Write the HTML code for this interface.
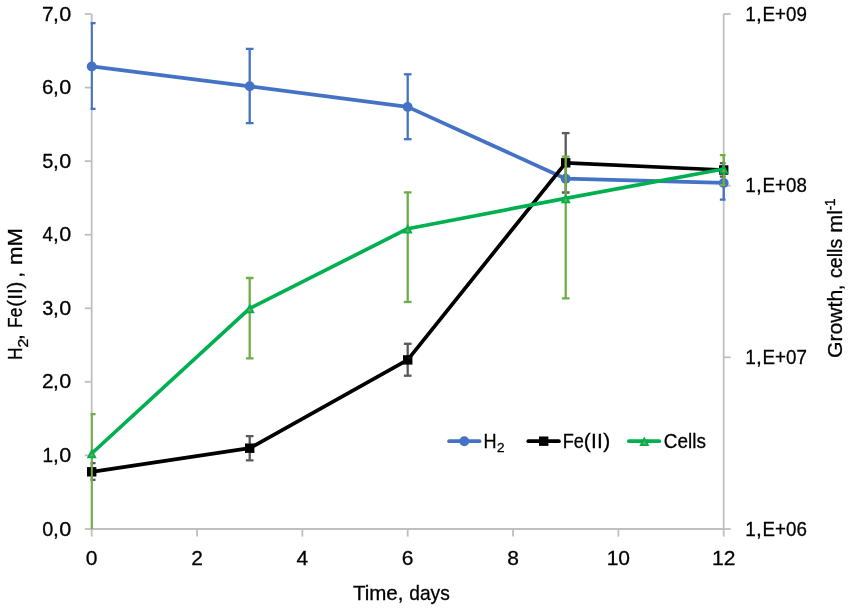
<!DOCTYPE html>
<html><head><meta charset="utf-8"><style>
html,body{margin:0;padding:0;background:#fff;width:851px;height:610px;overflow:hidden}
svg{display:block;will-change:transform}
text{font-family:"Liberation Sans",sans-serif;fill:#000;stroke:#000;stroke-width:0.3px}
</style></head><body>
<svg width="851" height="610" viewBox="0 0 851 610">
<defs><clipPath id="pa"><rect x="90.6" y="0" width="635" height="529"/></clipPath></defs>

<line x1="91.7" y1="14.0" x2="91.7" y2="529.0" stroke="#BFBFBF" stroke-width="1.8"/>
<line x1="723.7" y1="14.0" x2="723.7" y2="529.0" stroke="#BFBFBF" stroke-width="1.8"/>
<line x1="91.7" y1="529.0" x2="723.7" y2="529.0" stroke="#BFBFBF" stroke-width="1.8"/>
<line x1="84.8" y1="529.00" x2="91.7" y2="529.00" stroke="#BFBFBF" stroke-width="1.8"/>
<line x1="84.8" y1="455.43" x2="91.7" y2="455.43" stroke="#BFBFBF" stroke-width="1.8"/>
<line x1="84.8" y1="381.86" x2="91.7" y2="381.86" stroke="#BFBFBF" stroke-width="1.8"/>
<line x1="84.8" y1="308.29" x2="91.7" y2="308.29" stroke="#BFBFBF" stroke-width="1.8"/>
<line x1="84.8" y1="234.71" x2="91.7" y2="234.71" stroke="#BFBFBF" stroke-width="1.8"/>
<line x1="84.8" y1="161.14" x2="91.7" y2="161.14" stroke="#BFBFBF" stroke-width="1.8"/>
<line x1="84.8" y1="87.57" x2="91.7" y2="87.57" stroke="#BFBFBF" stroke-width="1.8"/>
<line x1="84.8" y1="14.00" x2="91.7" y2="14.00" stroke="#BFBFBF" stroke-width="1.8"/>
<line x1="723.7" y1="529.00" x2="730.7" y2="529.00" stroke="#BFBFBF" stroke-width="1.8"/>
<line x1="723.7" y1="357.33" x2="730.7" y2="357.33" stroke="#BFBFBF" stroke-width="1.8"/>
<line x1="723.7" y1="185.67" x2="730.7" y2="185.67" stroke="#BFBFBF" stroke-width="1.8"/>
<line x1="723.7" y1="14.00" x2="730.7" y2="14.00" stroke="#BFBFBF" stroke-width="1.8"/>
<line x1="91.70" y1="529.0" x2="91.70" y2="536.6" stroke="#BFBFBF" stroke-width="1.8"/>
<line x1="197.03" y1="529.0" x2="197.03" y2="536.6" stroke="#BFBFBF" stroke-width="1.8"/>
<line x1="302.37" y1="529.0" x2="302.37" y2="536.6" stroke="#BFBFBF" stroke-width="1.8"/>
<line x1="407.70" y1="529.0" x2="407.70" y2="536.6" stroke="#BFBFBF" stroke-width="1.8"/>
<line x1="513.03" y1="529.0" x2="513.03" y2="536.6" stroke="#BFBFBF" stroke-width="1.8"/>
<line x1="618.37" y1="529.0" x2="618.37" y2="536.6" stroke="#BFBFBF" stroke-width="1.8"/>
<line x1="723.70" y1="529.0" x2="723.70" y2="536.6" stroke="#BFBFBF" stroke-width="1.8"/>
<text x="42.22" y="535.50" font-size="21" textLength="11.05" lengthAdjust="spacingAndGlyphs">0</text>
<text x="52.88" y="535.50" font-size="21">,</text>
<text x="59.26" y="535.50" font-size="21" textLength="11.98" lengthAdjust="spacingAndGlyphs">0</text>
<text x="42.45" y="461.93" font-size="21" textLength="10.58" lengthAdjust="spacingAndGlyphs">1</text>
<text x="52.88" y="461.93" font-size="21">,</text>
<text x="59.26" y="461.93" font-size="21" textLength="11.98" lengthAdjust="spacingAndGlyphs">0</text>
<text x="41.95" y="388.36" font-size="21" textLength="11.60" lengthAdjust="spacingAndGlyphs">2</text>
<text x="52.88" y="388.36" font-size="21">,</text>
<text x="59.26" y="388.36" font-size="21" textLength="11.98" lengthAdjust="spacingAndGlyphs">0</text>
<text x="42.24" y="314.79" font-size="21" textLength="11.14" lengthAdjust="spacingAndGlyphs">3</text>
<text x="52.88" y="314.79" font-size="21">,</text>
<text x="59.26" y="314.79" font-size="21" textLength="11.98" lengthAdjust="spacingAndGlyphs">0</text>
<text x="42.57" y="241.21" font-size="21" textLength="10.48" lengthAdjust="spacingAndGlyphs">4</text>
<text x="52.88" y="241.21" font-size="21">,</text>
<text x="59.26" y="241.21" font-size="21" textLength="11.98" lengthAdjust="spacingAndGlyphs">0</text>
<text x="42.20" y="167.64" font-size="21" textLength="11.14" lengthAdjust="spacingAndGlyphs">5</text>
<text x="52.88" y="167.64" font-size="21">,</text>
<text x="59.26" y="167.64" font-size="21" textLength="11.98" lengthAdjust="spacingAndGlyphs">0</text>
<text x="41.95" y="94.07" font-size="21" textLength="11.45" lengthAdjust="spacingAndGlyphs">6</text>
<text x="52.88" y="94.07" font-size="21">,</text>
<text x="59.26" y="94.07" font-size="21" textLength="11.98" lengthAdjust="spacingAndGlyphs">0</text>
<text x="41.93" y="20.50" font-size="21" textLength="11.62" lengthAdjust="spacingAndGlyphs">7</text>
<text x="52.88" y="20.50" font-size="21">,</text>
<text x="59.26" y="20.50" font-size="21" textLength="11.98" lengthAdjust="spacingAndGlyphs">0</text>
<text x="745.25" y="535.50" font-size="21" textLength="10.58" lengthAdjust="spacingAndGlyphs">1</text>
<text x="755.88" y="535.50" font-size="21">,</text>
<text x="762.56" y="535.50" font-size="21" textLength="44.26" lengthAdjust="spacingAndGlyphs">E+06</text>
<text x="745.25" y="363.83" font-size="21" textLength="10.58" lengthAdjust="spacingAndGlyphs">1</text>
<text x="755.88" y="363.83" font-size="21">,</text>
<text x="762.56" y="363.83" font-size="21" textLength="44.39" lengthAdjust="spacingAndGlyphs">E+07</text>
<text x="745.25" y="192.17" font-size="21" textLength="10.58" lengthAdjust="spacingAndGlyphs">1</text>
<text x="755.88" y="192.17" font-size="21">,</text>
<text x="762.56" y="192.17" font-size="21" textLength="44.25" lengthAdjust="spacingAndGlyphs">E+08</text>
<text x="745.25" y="20.50" font-size="21" textLength="10.58" lengthAdjust="spacingAndGlyphs">1</text>
<text x="755.88" y="20.50" font-size="21">,</text>
<text x="762.56" y="20.50" font-size="21" textLength="44.33" lengthAdjust="spacingAndGlyphs">E+09</text>
<text x="91.70" y="565.4" font-size="21" text-anchor="middle">0</text>
<text x="197.03" y="565.4" font-size="21" text-anchor="middle">2</text>
<text x="302.37" y="565.4" font-size="21" text-anchor="middle">4</text>
<text x="407.70" y="565.4" font-size="21" text-anchor="middle">6</text>
<text x="513.03" y="565.4" font-size="21" text-anchor="middle">8</text>
<text x="618.37" y="565.4" font-size="21" text-anchor="middle">10</text>
<text x="723.70" y="565.4" font-size="21" text-anchor="middle">12</text>
<text x="352.95" y="599.70" font-size="20.6" textLength="44.85" lengthAdjust="spacingAndGlyphs">Time</text>
<text x="397.74" y="599.70" font-size="20.6">,</text>
<text x="409.29" y="599.70" font-size="20.6" textLength="40.50" lengthAdjust="spacingAndGlyphs">days</text>
<g transform="translate(21.8,358.8) rotate(-90)"><text x="-1.21" y="0.00" font-size="21" textLength="12.41" lengthAdjust="spacingAndGlyphs">H</text><text x="11.39" y="6.30" font-size="13.8" textLength="8.91" lengthAdjust="spacingAndGlyphs">2</text><text x="18.83" y="0.00" font-size="21">,</text><text x="30.87" y="0.00" font-size="21" textLength="20.41" lengthAdjust="spacingAndGlyphs">Fe</text><text x="52.12" y="0.00" font-size="21" textLength="25.15" lengthAdjust="spacingAndGlyphs">(II)</text><text x="81.18" y="0.00" font-size="21">,</text><text x="93.83" y="0.00" font-size="21" textLength="36.89" lengthAdjust="spacingAndGlyphs">mM</text></g>
<g transform="translate(841.5,356.8) rotate(-90)"><text x="-1.26" y="0.00" font-size="20.5" textLength="68.24" lengthAdjust="spacingAndGlyphs">Growth</text><text x="66.55" y="0.00" font-size="20.5">,</text><text x="78.77" y="0.00" font-size="20.5" textLength="39.24" lengthAdjust="spacingAndGlyphs">cells</text><text x="124.06" y="0.00" font-size="20.5" textLength="22.89" lengthAdjust="spacingAndGlyphs">ml</text><text x="146.60" y="-6.80" font-size="13.8" textLength="4.50" lengthAdjust="spacingAndGlyphs">-</text><text x="150.62" y="-6.80" font-size="13.8" textLength="7.87" lengthAdjust="spacingAndGlyphs">1</text></g>
<g clip-path="url(#pa)">
<line x1="91.70" y1="23.10" x2="91.70" y2="108.80" stroke="#4472C4" stroke-width="2.3"/><line x1="87.85" y1="23.10" x2="95.55" y2="23.10" stroke="#4472C4" stroke-width="2.3"/><line x1="87.85" y1="108.80" x2="95.55" y2="108.80" stroke="#4472C4" stroke-width="2.3"/>
<line x1="249.70" y1="48.90" x2="249.70" y2="123.20" stroke="#4472C4" stroke-width="2.3"/><line x1="245.85" y1="48.90" x2="253.55" y2="48.90" stroke="#4472C4" stroke-width="2.3"/><line x1="245.85" y1="123.20" x2="253.55" y2="123.20" stroke="#4472C4" stroke-width="2.3"/>
<line x1="407.70" y1="74.30" x2="407.70" y2="139.20" stroke="#4472C4" stroke-width="2.3"/><line x1="403.85" y1="74.30" x2="411.55" y2="74.30" stroke="#4472C4" stroke-width="2.3"/><line x1="403.85" y1="139.20" x2="411.55" y2="139.20" stroke="#4472C4" stroke-width="2.3"/>
<line x1="723.70" y1="166.30" x2="723.70" y2="199.60" stroke="#4472C4" stroke-width="2.3"/><line x1="719.85" y1="166.30" x2="727.55" y2="166.30" stroke="#4472C4" stroke-width="2.3"/><line x1="719.85" y1="199.60" x2="727.55" y2="199.60" stroke="#4472C4" stroke-width="2.3"/>
</g>
<polyline points="91.70,66.40 249.70,86.30 407.70,106.90 565.70,178.70 723.70,182.90" fill="none" stroke="#4472C4" stroke-width="3.7" stroke-linejoin="round" stroke-linecap="round"/>
<circle cx="91.70" cy="66.40" r="4.95" fill="#4472C4"/>
<circle cx="249.70" cy="86.30" r="4.95" fill="#4472C4"/>
<circle cx="407.70" cy="106.90" r="4.95" fill="#4472C4"/>
<circle cx="565.70" cy="178.70" r="4.95" fill="#4472C4"/>
<circle cx="723.70" cy="182.90" r="4.95" fill="#4472C4"/>
<g clip-path="url(#pa)">
<line x1="91.70" y1="463.20" x2="91.70" y2="479.90" stroke="#595959" stroke-width="2.3"/><line x1="87.85" y1="463.20" x2="95.55" y2="463.20" stroke="#595959" stroke-width="2.3"/><line x1="87.85" y1="479.90" x2="95.55" y2="479.90" stroke="#595959" stroke-width="2.3"/>
<line x1="249.70" y1="436.20" x2="249.70" y2="460.30" stroke="#595959" stroke-width="2.3"/><line x1="245.85" y1="436.20" x2="253.55" y2="436.20" stroke="#595959" stroke-width="2.3"/><line x1="245.85" y1="460.30" x2="253.55" y2="460.30" stroke="#595959" stroke-width="2.3"/>
<line x1="407.70" y1="343.80" x2="407.70" y2="375.70" stroke="#595959" stroke-width="2.3"/><line x1="403.85" y1="343.80" x2="411.55" y2="343.80" stroke="#595959" stroke-width="2.3"/><line x1="403.85" y1="375.70" x2="411.55" y2="375.70" stroke="#595959" stroke-width="2.3"/>
<line x1="565.70" y1="133.10" x2="565.70" y2="192.50" stroke="#595959" stroke-width="2.3"/><line x1="561.85" y1="133.10" x2="569.55" y2="133.10" stroke="#595959" stroke-width="2.3"/><line x1="561.85" y1="192.50" x2="569.55" y2="192.50" stroke="#595959" stroke-width="2.3"/>
<line x1="723.70" y1="163.10" x2="723.70" y2="176.60" stroke="#595959" stroke-width="2.3"/><line x1="719.85" y1="163.10" x2="727.55" y2="163.10" stroke="#595959" stroke-width="2.3"/><line x1="719.85" y1="176.60" x2="727.55" y2="176.60" stroke="#595959" stroke-width="2.3"/>
</g>
<polyline points="91.70,471.80 249.70,448.20 407.70,359.90 565.70,162.80 723.70,170.00" fill="none" stroke="#000" stroke-width="3.7" stroke-linejoin="round" stroke-linecap="round"/>
<rect x="87.00" y="467.10" width="9.4" height="9.4" fill="#000"/>
<rect x="245.00" y="443.50" width="9.4" height="9.4" fill="#000"/>
<rect x="403.00" y="355.20" width="9.4" height="9.4" fill="#000"/>
<rect x="561.00" y="158.10" width="9.4" height="9.4" fill="#000"/>
<rect x="719.00" y="165.30" width="9.4" height="9.4" fill="#000"/>
<g clip-path="url(#pa)">
<line x1="91.70" y1="414.20" x2="91.70" y2="560.00" stroke="#70AD47" stroke-width="2.3"/><line x1="87.85" y1="414.20" x2="95.55" y2="414.20" stroke="#70AD47" stroke-width="2.3"/><line x1="87.85" y1="560.00" x2="95.55" y2="560.00" stroke="#70AD47" stroke-width="2.3"/>
<line x1="249.70" y1="278.00" x2="249.70" y2="358.30" stroke="#70AD47" stroke-width="2.3"/><line x1="245.85" y1="278.00" x2="253.55" y2="278.00" stroke="#70AD47" stroke-width="2.3"/><line x1="245.85" y1="358.30" x2="253.55" y2="358.30" stroke="#70AD47" stroke-width="2.3"/>
<line x1="407.70" y1="192.40" x2="407.70" y2="302.00" stroke="#70AD47" stroke-width="2.3"/><line x1="403.85" y1="192.40" x2="411.55" y2="192.40" stroke="#70AD47" stroke-width="2.3"/><line x1="403.85" y1="302.00" x2="411.55" y2="302.00" stroke="#70AD47" stroke-width="2.3"/>
<line x1="565.70" y1="156.70" x2="565.70" y2="298.30" stroke="#70AD47" stroke-width="2.3"/><line x1="561.85" y1="156.70" x2="569.55" y2="156.70" stroke="#70AD47" stroke-width="2.3"/><line x1="561.85" y1="298.30" x2="569.55" y2="298.30" stroke="#70AD47" stroke-width="2.3"/>
<line x1="723.70" y1="155.10" x2="723.70" y2="185.20" stroke="#70AD47" stroke-width="2.3"/><line x1="719.85" y1="155.10" x2="727.55" y2="155.10" stroke="#70AD47" stroke-width="2.3"/><line x1="719.85" y1="185.20" x2="727.55" y2="185.20" stroke="#70AD47" stroke-width="2.3"/>
</g>
<polyline points="91.70,453.50 249.70,308.40 407.70,228.70 565.70,198.40 723.70,169.00" fill="none" stroke="#00B050" stroke-width="3.7" stroke-linejoin="round" stroke-linecap="round"/>
<polygon points="91.70,448.70 96.70,458.30 86.70,458.30" fill="#00B050"/><polygon points="91.70,452.90 93.70,456.50 89.70,456.50" fill="#70AD47"/>
<polygon points="249.70,303.60 254.70,313.20 244.70,313.20" fill="#00B050"/><polygon points="249.70,307.80 251.70,311.40 247.70,311.40" fill="#70AD47"/>
<polygon points="407.70,223.90 412.70,233.50 402.70,233.50" fill="#00B050"/><polygon points="407.70,228.10 409.70,231.70 405.70,231.70" fill="#70AD47"/>
<polygon points="565.70,193.60 570.70,203.20 560.70,203.20" fill="#00B050"/><polygon points="565.70,197.80 567.70,201.40 563.70,201.40" fill="#70AD47"/>
<polygon points="723.70,164.20 728.70,173.80 718.70,173.80" fill="#00B050"/><polygon points="723.70,168.40 725.70,172.00 721.70,172.00" fill="#70AD47"/>
<line x1="449.1" y1="441.2" x2="479.6" y2="441.2" stroke="#4472C4" stroke-width="3.7" stroke-linecap="round"/>
<circle cx="464.30" cy="441.20" r="4.95" fill="#4472C4"/>
<text x="483.57" y="447.60" font-size="21" textLength="13.06" lengthAdjust="spacingAndGlyphs">H</text>
<text x="497.02" y="451.60" font-size="13.7" textLength="7.57" lengthAdjust="spacingAndGlyphs">2</text>
<line x1="528.3" y1="441.2" x2="558.9" y2="441.2" stroke="#000" stroke-width="3.7" stroke-linecap="round"/>
<rect x="539.00" y="436.50" width="9.4" height="9.4" fill="#000"/>
<text x="562.71" y="447.60" font-size="21" textLength="21.20" lengthAdjust="spacingAndGlyphs">Fe</text>
<text x="583.71" y="447.60" font-size="21">(</text>
<text x="591.03" y="447.60" font-size="21">I</text>
<text x="596.98" y="447.60" font-size="21">I</text>
<text x="603.24" y="447.60" font-size="21">)</text>
<line x1="628.9" y1="441.2" x2="659.3" y2="441.2" stroke="#00B050" stroke-width="3.7" stroke-linecap="round"/>
<polygon points="644.30,436.40 649.30,446.00 639.30,446.00" fill="#00B050"/><polygon points="644.30,440.60 646.30,444.20 642.30,444.20" fill="#70AD47"/>
<text x="663.84" y="447.60" font-size="21" textLength="42.04" lengthAdjust="spacingAndGlyphs">Cells</text>
</svg>
</body></html>
